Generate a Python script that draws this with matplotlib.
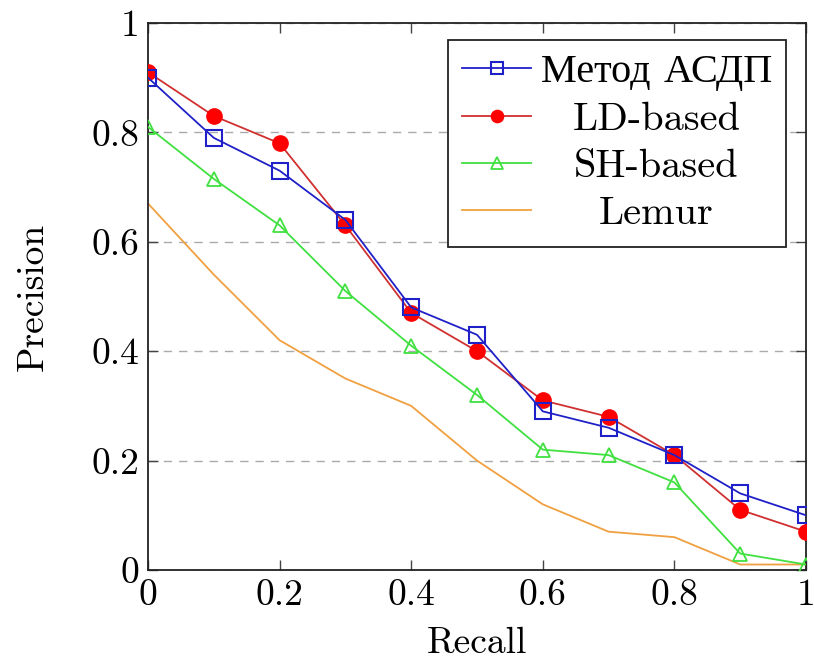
import matplotlib.pyplot as plt
from matplotlib.ticker import FixedLocator, FuncFormatter

# Data
recall = [0.0, 0.1, 0.2, 0.3, 0.4, 0.5, 0.6, 0.7, 0.8, 0.9, 1.0]
asdp = [0.90, 0.79, 0.73, 0.64, 0.48, 0.43, 0.29, 0.26, 0.21, 0.14, 0.10]
ld_based = [0.91, 0.83, 0.78, 0.63, 0.47, 0.40, 0.31, 0.28, 0.21, 0.11, 0.07]
sh_based = [0.81, 0.715, 0.63, 0.51, 0.41, 0.32, 0.22, 0.21, 0.16, 0.03, 0.01]
lemur = [0.67, 0.54, 0.42, 0.35, 0.30, 0.20, 0.12, 0.07, 0.06, 0.01, 0.01]
labels = ['Метод АСДП', 'LD-based', 'SH-based', 'Lemur']
ticks = [0, 0.2, 0.4, 0.6, 0.8, 1]

plt.rcParams['font.family'] = ['cmr10', 'Liberation Serif', 'DejaVu Serif']
plt.rcParams['axes.formatter.use_mathtext'] = True
FS = 27
LFS = 29

fig = plt.figure(figsize=(8.14, 6.64), dpi=100)
ax = fig.add_axes([0.1818, 0.1416, 0.8084, 0.8238])

ax.plot(recall, asdp, color='#2020c8', lw=1.3, marker='s', ms=11,
        mfc='none', mec='#2020c8', mew=1.5, label=labels[0], zorder=5)
ax.plot(recall, ld_based, color='#d03030', lw=1.3, marker='o', ms=11,
        mfc='red', mec='red', label=labels[1], zorder=4)
ax.plot(recall, sh_based, color='#40e040', lw=1.3, marker='^', ms=10,
        mfc='none', mec='#40e040', mew=1.3, label=labels[2], zorder=3)
ax.plot(recall, lemur, color='#f0a040', lw=1.3, label=labels[3], zorder=2)

ax.set_xlim(0, 1)
ax.set_ylim(0, 1)
ax.xaxis.set_major_locator(FixedLocator(ticks))
ax.yaxis.set_major_locator(FixedLocator(ticks))
fmt = FuncFormatter(lambda v, p: '%g' % v)
ax.xaxis.set_major_formatter(fmt)
ax.yaxis.set_major_formatter(fmt)
ax.tick_params(direction='in', length=7, width=1, top=True, right=True,
               labelsize=FS, pad=6, color='#444444')
ax.yaxis.grid(True, linestyle=(0, (6, 5)), color='#aaaaaa', lw=1)
for s in ax.spines.values():
    s.set_linewidth(1.3)
    s.set_color('#222222')

ax.set_xlabel('Recall', fontsize=FS, labelpad=11)
ax.set_ylabel('Precision', fontsize=FS, labelpad=30)

leg = ax.legend(loc='upper right', bbox_to_anchor=(0.97, 0.969), fontsize=LFS,
                frameon=True, fancybox=False, edgecolor='#222222',
                handlelength=1.7, handletextpad=0.25, labelspacing=0.27,
                borderpad=0.35, borderaxespad=0, markerscale=0.8)
leg.get_frame().set_linewidth(1.3)
leg.get_frame().set_alpha(1)

# pgfplots centres the legend entries; redraw the texts centred in their column
fig.canvas.draw()
texts = leg.get_texts()
boxes = [t.get_window_extent() for t in texts]
col_left = min(b.x0 for b in boxes)
col_w = max(b.width for b in boxes)
cx = col_left + col_w / 2
inv = fig.transFigure.inverted()
for t in texts:
    x0, y0 = t.get_transform().transform(t.get_position())
    fx, fy = inv.transform((cx, y0))
    fig.text(fx, fy, t.get_text(), ha='center', va='baseline',
             fontsize=LFS, zorder=10)
    t.set_alpha(0)

fig.savefig('out.png', dpi=100)
